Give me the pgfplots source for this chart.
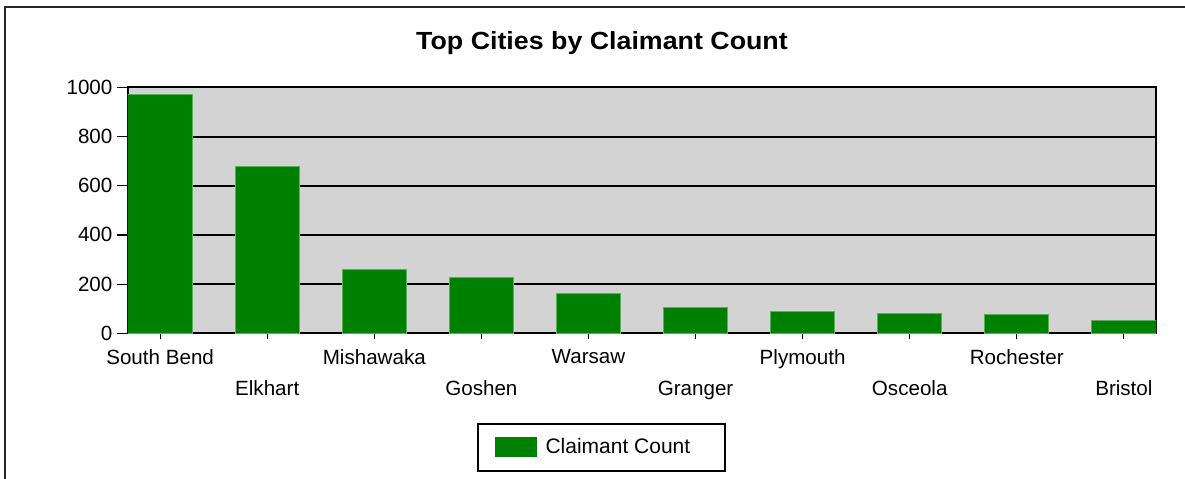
\documentclass[border=0pt]{standalone}
\usepackage{graphicx}
\usepackage{pgfplots}
\pgfplotsset{compat=1.18}
\usepackage{fontspec}
\setmainfont{Liberation Sans}
\definecolor{bargreen}{RGB}{0,128,0}
\definecolor{baredge}{RGB}{90,175,90}
\definecolor{bggray}{RGB}{211,211,211}
\begin{document}
\begin{tikzpicture}
\path[use as bounding box, clip] (0,0) rectangle (592.5pt,239pt);
\draw[line width=1pt, black!85] (2.5pt,235.5pt) rectangle (620pt,-20pt);
\node[anchor=base, inner sep=0pt] at (301pt,214.3pt) {\scalebox{1.08}[1]{\fontsize{12.4}{14}\selectfont\bfseries Top Cities by Claimant Count}};
\begin{axis}[
  at={(64pt,72.35pt)}, anchor=south west,
  scale only axis, width=514pt, height=123pt,
  xmin=-0.3, xmax=9.3, ymin=0, ymax=1000,
  ytick={0,200,...,1000},
  xtick={0,2,4,6,8},
  xticklabels={South Bend,Mishawaka,Warsaw,Plymouth,Rochester},
  extra x ticks={1,3,5,7,9},
  extra x tick labels={Elkhart,Goshen,Granger,Osceola,Bristol},
  extra x tick style={xticklabel style={yshift=-15.5pt}},
  xticklabel style={font=\fontsize{10.3}{12}\selectfont, yshift=-0.4pt},
  yticklabel style={font=\fontsize{10.3}{12}\selectfont},
  /pgf/number format/assume math mode=true,
  /pgf/number format/1000 sep={},
  tick align=outside, xtick pos=bottom, ytick pos=left,
  xtick style={/pgfplots/major tick length=3pt, black, line width=0.6pt},
  ytick style={/pgfplots/major tick length=5.5pt, black, line width=0.6pt},
  ymajorgrids, major grid style={black, line width=1pt},
  axis line style={black, line width=1pt},
  axis background/.style={fill=bggray},
  ybar, bar width=0.6,
  legend style={at={(0.4606,-0.464)}, anchor=center, draw=black, line width=1pt, fill=white,
    font=\fontsize{10.5}{12}\selectfont, inner xsep=8pt, inner ysep=5pt},
  legend image code/.code={\fill[bargreen] (0pt,-4.75pt) rectangle (20.5pt,4.75pt);},
]
\addplot[fill=bargreen, draw=baredge, line width=0.5pt] coordinates {
 (0,972) (1,679) (2,258) (3,228) (4,160) (5,106) (6,87) (7,79) (8,75) (9,53)};
\addlegendentry{\hspace{2.5pt}\makebox[79.5pt][l]{Claimant Count}}
\end{axis}
\end{tikzpicture}
\end{document}
